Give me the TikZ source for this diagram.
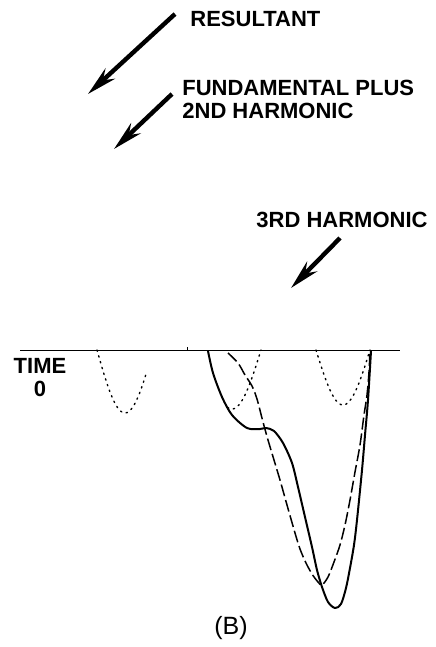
\documentclass[tikz,border=0pt]{standalone}
\usepackage{fontspec}
\setsansfont{Liberation Sans}
\usetikzlibrary{arrows.meta}

\begin{document}
\begin{tikzpicture}[x=0.5pt, y=-0.5pt,
  font=\sffamily\bfseries\fontsize{11}{11.5}\selectfont,
  every node/.style={inner sep=0pt},
  pointer/.style={line width=2.2pt, -{Stealth[length=15pt, width=7pt]}},
  resultant/.style={line width=1pt, line join=round},
  fundamental/.style={line width=0.75pt, dash pattern=on 6pt off 2pt},
  harmonic/.style={line width=0.7pt, dash pattern=on 0.7pt off 2.3pt, line cap=round}]
  \useasboundingbox (0,0) rectangle (435,647);
  \def\zero{350} % time axis

  % labels
  \node[anchor=north west] (res) at (190,11) {RESULTANT};
  \node[anchor=north west, align=left] (fund) at (182,80) {FUNDAMENTAL PLUS\\2ND HARMONIC};
  \node[anchor=north east] (third) at (428,212) {3RD HARMONIC};
  \node[anchor=north, align=center] (time) at (40,358) {TIME\\0};
  \node[font=\sffamily\fontsize{12.5}{13}\selectfont] (fig) at (231,628) {(B)};

  % pointers
  \coordinate (res-tail) at (175,14);   \coordinate (res-tip) at (88,94);
  \coordinate (fund-tail) at (172,94);  \coordinate (fund-tip) at (114,149);
  \coordinate (third-tail) at (340,238); \coordinate (third-tip) at (291,288);
  \foreach \a in {res, fund, third}
    \draw[pointer] (\a-tail) -- (\a-tip);

  % time axis
  \coordinate (t0) at (20,\zero);
  \coordinate (t1) at (400,\zero);
  \draw[line width=0.5pt] (t0) -- (t1);
  \draw[line width=0.5pt] (187,\zero) -- (187,\zero-3);

  % 3rd harmonic
  \foreach \cx/\hw/\dp/\ta/\tb in {125/28/63/-1/0.75, 232/29/59/-0.15/1, 343/27/55/-1/1}
    \draw[harmonic] plot[domain=\ta:\tb, samples=30, smooth]
      ({\cx+\hw*\x}, {\zero+\dp*cos(90*\x)});

  % fundamental plus 2nd harmonic
  \draw[fundamental] plot[smooth] coordinates {
    (228,353) (238,363) (245,375) (252,386) (257,399) (263,422) (268,440)
    (274,460) (280,480) (287,505) (295,533) (300,549) (306,563) (312,574)
    (318,582) (322,585) (328,577) (334,562) (340,545) (345,525) (350,500)
    (355,472) (360,445) (364,415) (367,395) (369,372) (370,351)};

  % resultant
  \draw[resultant] plot[smooth] coordinates {
    (208,351) (213,373) (222,397) (232,415) (247,428) (260,429) (266,428)
    (274,431) (283,443) (292,463) (298,487) (305,517) (312,547) (317,570)
    (322,587) (328,602) (335,608) (341,604) (346,588) (350,568) (354,545)
    (357,520) (362,470) (365,435) (368,400) (371,351)};
\end{tikzpicture}
\end{document}
